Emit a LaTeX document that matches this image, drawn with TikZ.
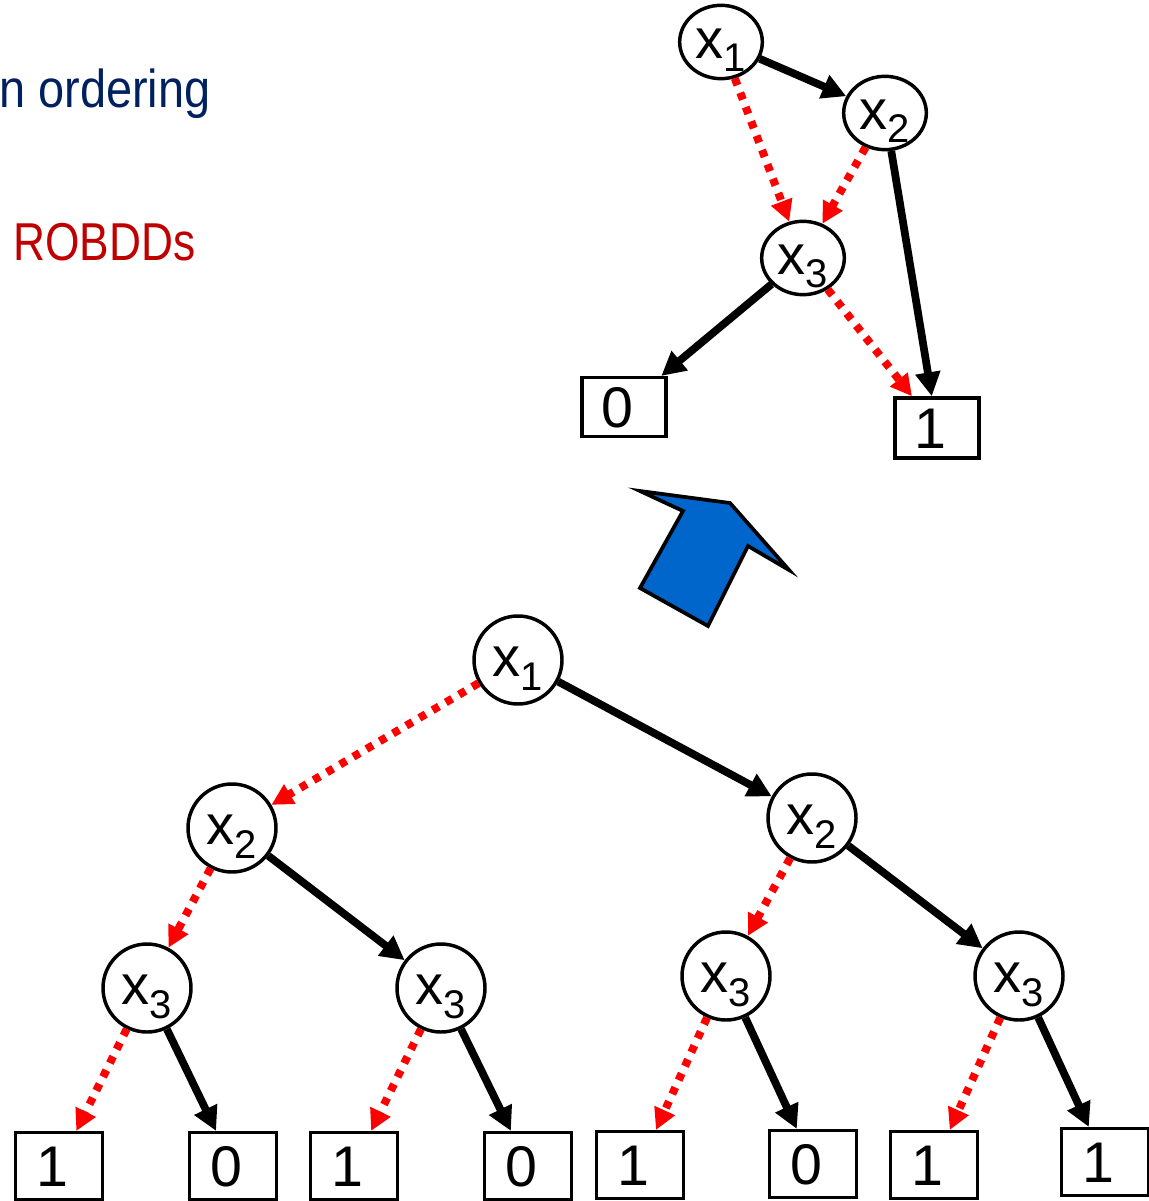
\documentclass[tikz,border=0pt]{standalone}
\usepackage{fontspec}
\setmainfont{Liberation Sans}
\usetikzlibrary{arrows.meta,shapes.geometric}
\definecolor{navytext}{HTML}{002060}
\definecolor{redtext}{HTML}{C00000}
\definecolor{arrowblue}{HTML}{0066CC}
\newcommand\xvar[1]{x\raisebox{-10pt}{\fontsize{30}{30}\selectfont #1}}
\newcommand\lf[1]{\hspace*{-10pt}#1}
\begin{document}
\begin{tikzpicture}[x=0.75pt,y=-0.75pt,
  var/.style={ellipse,draw,line width=2.6pt,inner sep=0pt,minimum width=66pt,minimum height=66pt,
    font=\fontsize{42}{42}\selectfont,text height=25pt,text depth=0pt},
  topvar/.style={var,minimum width=62pt,minimum height=55pt},
  leaf/.style={rectangle,draw,line width=2.6pt,inner sep=0pt,minimum width=65pt,minimum height=50pt,
    font=\fontsize{43}{43}\selectfont,text height=30.8pt,text depth=0pt},
  hi/.style={line width=5.8pt,-{Triangle[length=18pt,width=18pt]}},
  lo/.style={red,line width=6pt,dash pattern=on 5.5pt off 6pt,-{Triangle[length=16pt,width=16pt]}}]
\useasboundingbox (0,0) rectangle (1148,1201);

% texts
\node[anchor=base west,inner sep=0pt,text=navytext,font=\fontsize{40}{40}\selectfont] (t1) at (-1,108) {\scalebox{0.88}[1]{n ordering}};
\node[anchor=base west,inner sep=0pt,text=redtext,font=\fontsize{40}{40}\selectfont] (t2) at (13,261) {\scalebox{0.83}[1]{ROBDDs}};

% top ROBDD
\node[topvar] (r1) at (721,42) {\xvar{1}};
\node[topvar] (r2) at (885,113) {\xvar{2}};
\node[topvar] (r3) at (803,258) {\xvar{3}};
\node[leaf,minimum width=63pt,minimum height=44pt] (r0l) at (624,407) {\lf{0}};
\node[leaf,minimum width=63pt,minimum height=45pt] (r1l) at (937,428) {\lf{1}};
\draw[hi] (r1) -- (r2);
\draw[lo] (r1) -- (r3);
\draw[lo] (r2) -- (r3);
\draw[hi] (r2) -- (r1l);
\draw[hi] (r3) -- (r0l);
\draw[lo] (r3) -- (r1l);

% blue arrow
\filldraw[fill=arrowblue,draw=black,line width=2.8pt,line join=miter]
  (640,491) -- (730,503) -- (789,570) -- (748,546) -- (708,626) -- (640,588) -- (683,511) -- cycle;

% bottom OBDD tree
\node[var] (a1) at (518,660) {\xvar{1}};
\node[var] (b1) at (232,828) {\xvar{2}};
\node[var] (b2) at (812,818) {\xvar{2}};
\node[var] (c1) at (147,988) {\xvar{3}};
\node[var] (c2) at (441,988) {\xvar{3}};
\node[var] (c3) at (726,976) {\xvar{3}};
\node[var] (c4) at (1019,976) {\xvar{3}};
\node[leaf] (d1) at (59,1166) {\lf{1}};
\node[leaf] (d2) at (233,1166) {\lf{0}};
\node[leaf] (d3) at (354,1166) {\lf{1}};
\node[leaf] (d4) at (528,1166) {\lf{0}};
\node[leaf] (d5) at (640,1165) {\lf{1}};
\node[leaf] (d6) at (813,1164) {\lf{0}};
\node[leaf] (d7) at (934,1165) {\lf{1}};
\node[leaf] (d8) at (1105,1162) {\lf{1}};

\draw[lo] (a1) -- (b1);
\draw[hi] (a1) -- (b2);
\draw[lo] (b1) -- (c1);
\draw[hi] (b1) -- (c2);
\draw[lo] (b2) -- (c3);
\draw[hi] (b2) -- (c4);
\draw[lo] (c1) -- (d1);
\draw[hi] (c1) -- (d2);
\draw[lo] (c2) -- (d3);
\draw[hi] (c2) -- (d4);
\draw[lo] (c3) -- (d5);
\draw[hi] (c3) -- (d6);
\draw[lo] (c4) -- (d7);
\draw[hi] (c4) -- (d8);
\end{tikzpicture}
\end{document}
